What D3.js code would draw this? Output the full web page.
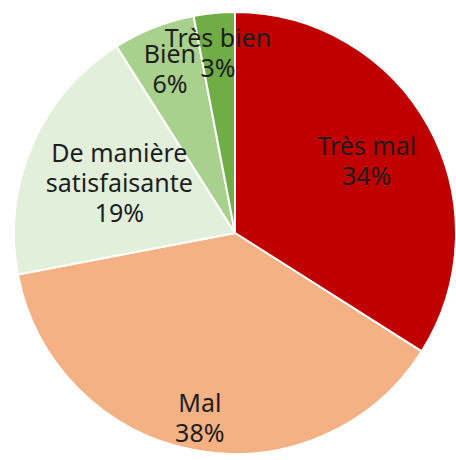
<!DOCTYPE html>
<html>
<head>
<meta charset="utf-8">
<script src="https://cdn.jsdelivr.net/npm/d3@7"></script>
<style>
  html, body { margin: 0; padding: 0; background: #fff; }
  svg { display: block; font-family: "Noto Sans", sans-serif; }
</style>
</head>
<body>
<div id="chart"></div>
<script>
// Chart data
const categories = ["Très mal", "Mal", "De manière satisfaisante", "Bien", "Très bien"];
const labelLines = [["Très mal"], ["Mal"], ["De manière", "satisfaisante"], ["Bien"], ["Très bien"]];
const values = [34, 38, 19, 6, 3];
const colors = ["#c00000", "#f4b183", "#e2efda", "#a9d18e", "#70ad47"];

// Layout
const width = 456;
const height = 460;
const cx = 235;
const cy = 233;
const radius = 221;
// label distance from centre, as a fraction of the radius
const labelRadius = [0.68, 0.85, 0.57, 0.80, 0.82];
const lineHeight = 30;
const fontSize = 25;

const svg = d3.select("#chart")
    .append("svg")
    .attr("width", width)
    .attr("height", height);

const g = svg.append("g")
    .attr("transform", `translate(${cx},${cy})`);

const pie = d3.pie()
    .value(d => d)
    .sort(null);

const arcs = pie(values);

const arc = d3.arc()
    .innerRadius(0)
    .outerRadius(radius);

// Slices
g.selectAll(".slice")
    .data(arcs)
    .join("path")
    .attr("class", "slice")
    .attr("d", arc)
    .attr("fill", (d, i) => colors[i])
    .attr("stroke", "#fff")
    .attr("stroke-width", 2)
    .attr("stroke-linejoin", "round");

// Labels: name lines + percentage
const labels = g.selectAll(".label")
    .data(arcs)
    .join("text")
    .attr("class", "label")
    .attr("text-anchor", "middle")
    .attr("font-size", fontSize)
    .attr("fill", "#1e1e1e")
    .attr("transform", (d, i) => {
        const r = radius * labelRadius[i];
        const c = d3.arc().innerRadius(r).outerRadius(r).centroid(d);
        return `translate(${c[0]},${c[1]})`;
    });

labels.each(function (d, i) {
    const lines = labelLines[i].concat([values[i] + "%"]);
    const text = d3.select(this);
    // centre the block of lines vertically on the anchor point
    const first = -((lines.length - 1) * lineHeight) / 2 + fontSize * 0.36;
    lines.forEach((line, k) => {
        text.append("tspan")
            .attr("x", 0)
            .attr("y", first + k * lineHeight)
            .text(line);
    });
});
</script>
</body>
</html>
